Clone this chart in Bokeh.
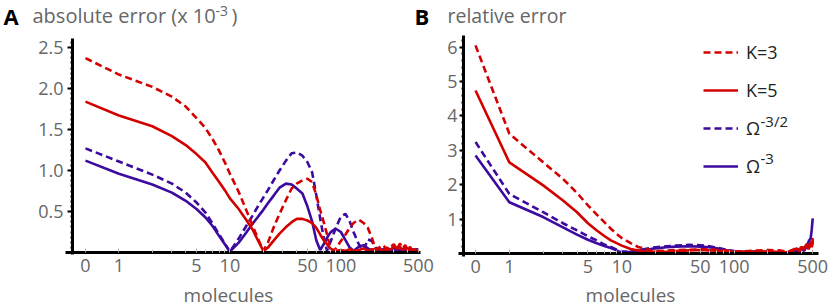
import numpy as np
from bokeh.plotting import figure
from bokeh.models import (Range1d, FixedTicker, CustomJSTickFormatter, Label,
                          Legend, LegendItem, LinearAxis)
from bokeh.embed import file_html
from bokeh.resources import INLINE

# ---------------- data ----------------
molecules_a = [0, 1, 2, 3, 4, 5, 6, 7, 8, 9, 10,
               12, 14, 16, 18, 20,
               22, 25, 28, 32, 36, 40, 45, 50,
               55, 60, 65, 70, 75, 80, 85, 90,
               100, 110, 120, 130, 145, 160, 175, 190, 205,
               220, 240, 260, 280, 300, 320, 340, 360, 380, 400, 420, 440, 460, 480, 500]

abs_K3 = [2.37, 2.17, 2.02, 1.90, 1.78, 1.64, 1.52, 1.38, 1.24, 1.10, 0.96,
          0.74, 0.52, 0.33, 0.16, 0.02,
          0.12, 0.32, 0.47, 0.64, 0.78, 0.84, 0.88, 0.90,
          0.86, 0.70, 0.52, 0.37, 0.22, 0.06, 0.02, 0.05,
          0.14, 0.22, 0.30, 0.36, 0.40, 0.36, 0.30, 0.18, 0.04,
          0.06, 0.09, 0.03, 0.07, 0.10, 0.04, 0.11, 0.05, 0.09, 0.03, 0.07, 0.02, 0.05, 0.02, 0.03]

abs_K5 = [1.84, 1.67, 1.54, 1.42, 1.31, 1.20, 1.10, 0.97, 0.86, 0.76, 0.66,
          0.53, 0.40, 0.28, 0.14, 0.02,
          0.06, 0.15, 0.23, 0.31, 0.37, 0.41, 0.41, 0.39,
          0.36, 0.30, 0.22, 0.15, 0.10, 0.05, 0.03, 0.02,
          0.03, 0.02, 0.04, 0.02, 0.03, 0.05, 0.02, 0.04, 0.03,
          0.05, 0.02, 0.06, 0.03, 0.08, 0.04, 0.07, 0.03, 0.06, 0.02, 0.05, 0.03, 0.04, 0.02, 0.03]

abs_O32 = [1.27, 1.11, 0.95, 0.84, 0.73, 0.61, 0.49, 0.35, 0.22, 0.11, 0.01,
           0.17, 0.32, 0.45, 0.57, 0.67,
           0.76, 0.89, 1.00, 1.12, 1.21, 1.22, 1.18, 1.10,
           0.98, 0.70, 0.42, 0.18, 0.02, 0.12, 0.21, 0.30,
           0.44, 0.47, 0.38, 0.25, 0.10, 0.03, 0.16, 0.14, 0.06,
           0.03, 0.05, 0.02, 0.04, 0.03, 0.05, 0.02, 0.04, 0.03, 0.05, 0.02, 0.04, 0.03, 0.04, 0.03]

abs_O3 = [1.12, 0.96, 0.83, 0.73, 0.63, 0.53, 0.43, 0.32, 0.20, 0.10, 0.01,
          0.12, 0.24, 0.35, 0.44, 0.52,
          0.60, 0.70, 0.79, 0.84, 0.83, 0.78, 0.72, 0.56,
          0.38, 0.15, 0.03, 0.10, 0.18, 0.24, 0.27, 0.29,
          0.25, 0.15, 0.06, 0.02, 0.07, 0.09, 0.05, 0.02, 0.04,
          0.02, 0.04, 0.03, 0.02, 0.04, 0.03, 0.02, 0.03, 0.02, 0.04, 0.02, 0.03, 0.02, 0.03, 0.02]

molecules_b = [0, 1, 2, 3, 4, 5, 6, 7, 8, 9, 10,
               12, 14, 16, 18, 20,
               25, 30, 40, 50, 60, 70, 80,
               100, 120, 150, 200, 250, 300,
               330, 360, 380, 400, 420, 440, 460, 480, 490, 500]

rel_K3 = [6.05, 3.48, 2.65, 2.17, 1.76, 1.40, 1.13, 0.91, 0.72, 0.57, 0.45,
          0.30, 0.19, 0.14, 0.09, 0.07,
          0.08, 0.10, 0.11, 0.12, 0.12, 0.10, 0.09,
          0.07, 0.06, 0.08, 0.10, 0.09, 0.05,
          0.10, 0.18, 0.08, 0.25, 0.12, 0.30, 0.18, 0.38, 0.22, 0.45]

rel_K5 = [4.74, 2.65, 1.98, 1.54, 1.20, 0.88, 0.67, 0.51, 0.38, 0.30, 0.23,
          0.13, 0.09, 0.06, 0.05, 0.05,
          0.05, 0.07, 0.09, 0.10, 0.09, 0.08, 0.07,
          0.05, 0.04, 0.05, 0.06, 0.05, 0.03,
          0.08, 0.15, 0.05, 0.20, 0.10, 0.28, 0.12, 0.30, 0.18, 0.40]

rel_O32 = [3.24, 1.73, 1.20, 0.88, 0.67, 0.50, 0.38, 0.26, 0.19, 0.11, 0.06,
           0.06, 0.10, 0.13, 0.16, 0.18,
           0.21, 0.23, 0.25, 0.24, 0.21, 0.17, 0.13,
           0.07, 0.05, 0.06, 0.04, 0.03, 0.02,
           0.04, 0.10, 0.04, 0.15, 0.08, 0.25, 0.15, 0.30, 0.20, 0.35]

rel_O3 = [2.85, 1.49, 1.06, 0.76, 0.55, 0.40, 0.30, 0.22, 0.16, 0.09, 0.01,
          0.05, 0.08, 0.11, 0.13, 0.15,
          0.18, 0.20, 0.21, 0.20, 0.18, 0.15, 0.11,
          0.06, 0.04, 0.05, 0.03, 0.02, 0.02,
          0.03, 0.06, 0.04, 0.12, 0.08, 0.20, 0.35, 0.45, 0.70, 1.02]

x_tick_values = [0, 1, 5, 10, 50, 100, 500]
x_minor_values = [2, 3, 4, 6, 7, 8, 9, 20, 30, 40, 60, 70, 80, 90, 200, 300, 400]
yticks_a = [0.5, 1.0, 1.5, 2.0, 2.5]
yticks_b = [1, 2, 3, 4, 5, 6]

series_labels = ["K=3", "K=5", "Ω", "Ω"]

# ---------------- styling ----------------
RED = "#d40000"
PURPLE = "#3c0a9e"
GRAY = "#666666"
DARK = "#222222"
FONT = "Open Sans"
DASH = "7 4"
LW = 2.6
W, H = 830, 307
TXT_DY = 7   # labels render a little below their requested baseline

# panel geometry (canvas px): axis crossing point and scale of each panel
A_X0, A_Y0, A_PXD, A_PXU = 72, 252, 111.0, 82.0      # y-axis x, x-axis y, px/decade, px/unit
B_X0, B_Y0, B_PXD, B_PXU = 463, 253, 112.4, 34.4
A_XMIN, A_XMAX, A_YMAX = -0.418, 2.717, 2.61
B_XMIN, B_XMAX, B_YMAX = -0.408, 2.75, 6.34


def tx(v):
    # log axis on which 0 sits half a decade below 1
    return np.log10(np.maximum(np.asarray(v, dtype=float), 0.5))


xa_range = Range1d(A_XMIN - A_X0 / A_PXD, A_XMIN + (W - A_X0) / A_PXD)
ya_range = Range1d(-(H - A_Y0) / A_PXU, A_Y0 / A_PXU)
xb_range = Range1d(B_XMIN - B_X0 / B_PXD, B_XMIN + (W - B_X0) / B_PXD)
yb_range = Range1d(-(H - B_Y0) / B_PXU, B_Y0 / B_PXU)

p = figure(width=W, height=H, output_backend="svg", toolbar_location=None,
           x_range=xa_range, y_range=ya_range,
           x_axis_location=None, y_axis_location=None, min_border=0)
p.extra_x_ranges = {"xb": xb_range}
p.extra_y_ranges = {"yb": yb_range}
p.outline_line_color = None
p.grid.visible = False
p.background_fill_color = "white"
p.border_fill_color = "white"

x_formatter = CustomJSTickFormatter(
    code="return tick < -0.1 ? '0' : String(Math.round(Math.pow(10, tick)));")


def add_x_axis(xname, yname, bounds):
    ax = LinearAxis(x_range_name=xname, y_range_name=yname, fixed_location=0,
                    bounds=bounds,
                    ticker=FixedTicker(ticks=list(tx(x_tick_values)),
                                       minor_ticks=list(tx(x_minor_values))),
                    formatter=x_formatter)
    ax.axis_line_width = 3
    ax.axis_line_color = "black"
    ax.major_tick_in = 4
    ax.major_tick_out = 0
    ax.major_tick_line_color = "#b0b0b0"
    ax.minor_tick_in = 3
    ax.minor_tick_out = 0
    ax.minor_tick_line_color = "#c8c8c8"
    ax.major_label_text_font = FONT
    ax.major_label_text_font_size = "18px"
    ax.major_label_text_color = GRAY
    ax.major_label_standoff = 6
    p.add_layout(ax, "below")


def add_y_axis(xname, yname, loc, bounds, ticks, minor, digits, standoff, tick_out):
    ax = LinearAxis(x_range_name=xname, y_range_name=yname, fixed_location=loc,
                    bounds=bounds, ticker=FixedTicker(ticks=ticks, minor_ticks=minor),
                    formatter=CustomJSTickFormatter(code="return tick.toFixed(%d);" % digits))
    ax.axis_line_width = 3
    ax.axis_line_color = "black"
    ax.major_tick_in = 0
    ax.major_tick_out = tick_out
    ax.major_tick_line_width = 2
    ax.major_tick_line_color = "black"
    ax.minor_tick_in = 0
    ax.minor_tick_out = 2
    ax.minor_tick_line_width = 2
    ax.minor_tick_line_color = "black"
    ax.major_label_text_font = FONT
    ax.major_label_text_font_size = "18px"
    ax.major_label_text_color = GRAY
    ax.major_label_standoff = standoff
    p.add_layout(ax, "left")


def add_text(x, y, text, size, color=GRAY, style="normal", align="left"):
    # x, y: canvas px from the left / top edge (y = wanted baseline)
    p.add_layout(Label(x=x, y=H - (y - TXT_DY), x_units="screen", y_units="screen",
                       text=text, text_font=FONT, text_font_size=size,
                       text_color=color, text_font_style=style,
                       text_baseline="alphabetic", text_align=align))


# ---------------- panel A ----------------
add_x_axis("default", "default", (A_XMIN - 7 / A_PXD, A_XMAX))
add_y_axis("default", "default", A_XMIN, (-0.03, A_YMAX), yticks_a,
           list(np.arange(0, A_YMAX, 0.0625)), 1, 4, 5)

xA = tx(molecules_a)
p.line(xA, abs_O3, line_color=PURPLE, line_width=LW)
p.line(xA, abs_O32, line_color=PURPLE, line_width=LW, line_dash=DASH)
p.line(xA, abs_K5, line_color=RED, line_width=LW)
p.line(xA, abs_K3, line_color=RED, line_width=LW, line_dash=DASH)

add_text(3, 22, "A", "22px", color="black", style="bold")
add_text(32, 22, "absolute error (x 10", "20px")
add_text(215, 17, "-3", "14px")
add_text(231, 22, ")", "20px")
add_text(228, 301, "molecules", "19px", align="center")

# ---------------- panel B ----------------
add_x_axis("xb", "yb", (B_XMIN - 5 / B_PXD, B_XMAX))
add_y_axis("xb", "yb", B_XMIN, (-0.08, B_YMAX), yticks_b,
           list(np.arange(0, B_YMAX, 0.2)), 0, 2, 4)

xB = tx(molecules_b)
kw = dict(x_range_name="xb", y_range_name="yb")
rO3 = p.line(xB, rel_O3, line_color=PURPLE, line_width=LW, **kw)
rO32 = p.line(xB, rel_O32, line_color=PURPLE, line_width=LW, line_dash=DASH, **kw)
rK5 = p.line(xB, rel_K5, line_color=RED, line_width=LW, **kw)
rK3 = p.line(xB, rel_K3, line_color=RED, line_width=LW, line_dash=DASH, **kw)

add_text(414, 22, "B", "22px", color="black", style="bold")
add_text(447, 22, "relative error", "19.5px")
add_text(630, 301, "molecules", "19px", align="center")

legend = Legend(items=[LegendItem(label=series_labels[0], renderers=[rK3]),
                       LegendItem(label=series_labels[1], renderers=[rK5]),
                       LegendItem(label=series_labels[2], renderers=[rO32]),
                       LegendItem(label=series_labels[3], renderers=[rO3])],
                location=(703, 129), padding=0, margin=0, spacing=14,
                glyph_width=35, glyph_height=20, label_height=20, label_standoff=8,
                label_text_font=FONT, label_text_font_size="18px",
                label_text_color=DARK,
                background_fill_alpha=0, border_line_alpha=0)
p.add_layout(legend)
add_text(760, 127, "-3/2", "15px", color=DARK)
add_text(760, 165, "-3", "15px", color=DARK)

open("out.html", "w").write(file_html(p, INLINE))
